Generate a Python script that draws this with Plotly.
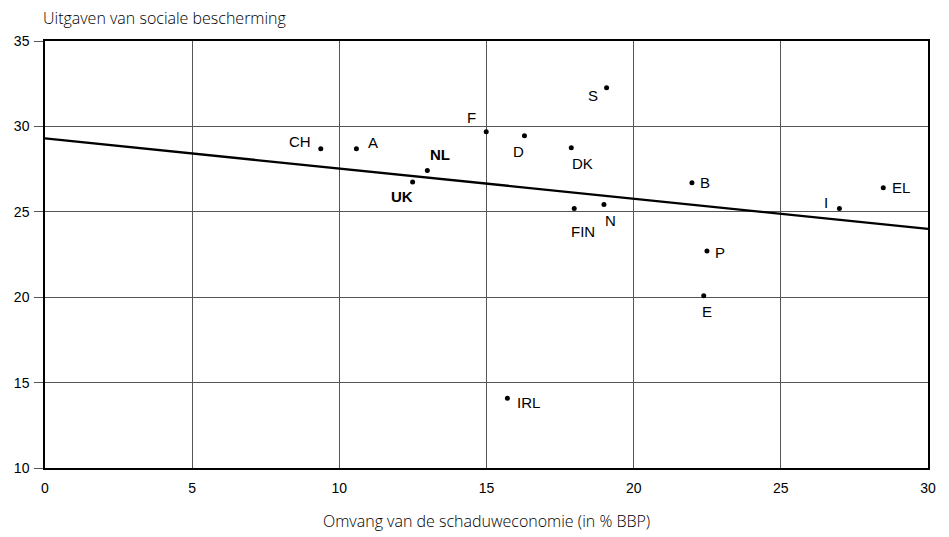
import plotly.graph_objects as go

# Data
countries = ["CH", "A", "NL", "UK", "F", "D", "DK", "S", "B", "FIN", "N", "I", "EL", "P", "E", "IRL"]
shadow_economy = [9.37, 10.58, 12.99, 12.49, 14.99, 16.29, 17.88, 19.08, 21.98, 17.98, 18.99, 26.99, 28.48, 22.49, 22.38, 15.71]
social_spending = [28.69, 28.69, 27.42, 26.75, 29.68, 29.45, 28.75, 32.26, 26.70, 25.20, 25.43, 25.20, 26.41, 22.71, 20.08, 14.08]
bold_labels = ["NL", "UK"]
trend_x = [0, 30]
trend_y = [29.3, 24.0]
x_ticks = [0, 5, 10, 15, 20, 25, 30]
y_ticks = [10, 15, 20, 25, 30, 35]

# label placement (anchor, xshift px, yshift px)
label_pos = {
    "CH": ("right", -8, 7), "A": ("left", 10, 6), "NL": ("left", 1, 16),
    "UK": ("center", -11, -15), "F": ("center", -15, 14), "D": ("center", -6, -16),
    "DK": ("center", 11, -16), "S": ("center", -14, -8), "B": ("left", 6, 0),
    "FIN": ("center", 9, -23), "N": ("center", 7, -16), "I": ("center", -13, 6),
    "EL": ("left", 7, 0), "P": ("left", 6, -2), "E": ("center", 3, -16),
    "IRL": ("left", 8, -4),
}

fig = go.Figure()
fig.add_trace(go.Scatter(x=trend_x, y=trend_y, mode="lines",
                         line=dict(color="black", width=2.3), hoverinfo="skip"))
fig.add_trace(go.Scatter(x=shadow_economy, y=social_spending, mode="markers",
                         marker=dict(color="black", size=5), hoverinfo="skip"))

annos = []
for c, xv, yv in zip(countries, shadow_economy, social_spending):
    anc, dx, dy = label_pos[c]
    txt = f"<b>{c}</b>" if c in bold_labels else c
    annos.append(dict(x=xv, y=yv, xref="x", yref="y", text=txt, showarrow=False,
                      xanchor=anc, yanchor="middle", xshift=dx, yshift=dy,
                      font=dict(family="Liberation Sans, Arial", size=15, color="black")))

title_font = dict(family="Open Sans", size=16, color="black", weight=300)
annos.append(dict(x=0, y=1, xref="paper", yref="paper", text="Uitgaven van sociale bescherming",
                  showarrow=False, xanchor="left", yanchor="middle", xshift=-4, yshift=23,
                  font=title_font))
annos.append(dict(x=0.5, y=0, xref="paper", yref="paper", text="Omvang van de schaduweconomie (in % BBP)",
                  showarrow=False, xanchor="center", yanchor="middle", yshift=-53,
                  font=title_font))

fig.update_layout(
    width=949, height=537,
    margin=dict(l=45, r=21, t=41, b=69),
    paper_bgcolor="white", plot_bgcolor="white",
    showlegend=False,
    annotations=annos,
    xaxis=dict(range=[0, 30], tickvals=x_ticks, showgrid=True, gridcolor="#555", gridwidth=1,
               zeroline=False, showline=True, linecolor="black", linewidth=1.5, mirror=True,
               ticks="", ticklabelstandoff=6, automargin=False,
               tickfont=dict(family="Liberation Sans, Arial", size=14, color="black")),
    yaxis=dict(range=[10, 35], tickvals=y_ticks, showgrid=True, gridcolor="#555", gridwidth=1,
               zeroline=False, showline=True, linecolor="black", linewidth=1.5, mirror=True,
               ticks="outside", ticklen=9, tickcolor="#555", tickwidth=1, ticklabelstandoff=2,
               automargin=False,
               tickfont=dict(family="Liberation Sans, Arial", size=14, color="black")),
)

fig.write_html("out.html", config={"displayModeBar": False},
               post_script="document.body.style.margin='0';document.body.style.overflow='hidden';")
